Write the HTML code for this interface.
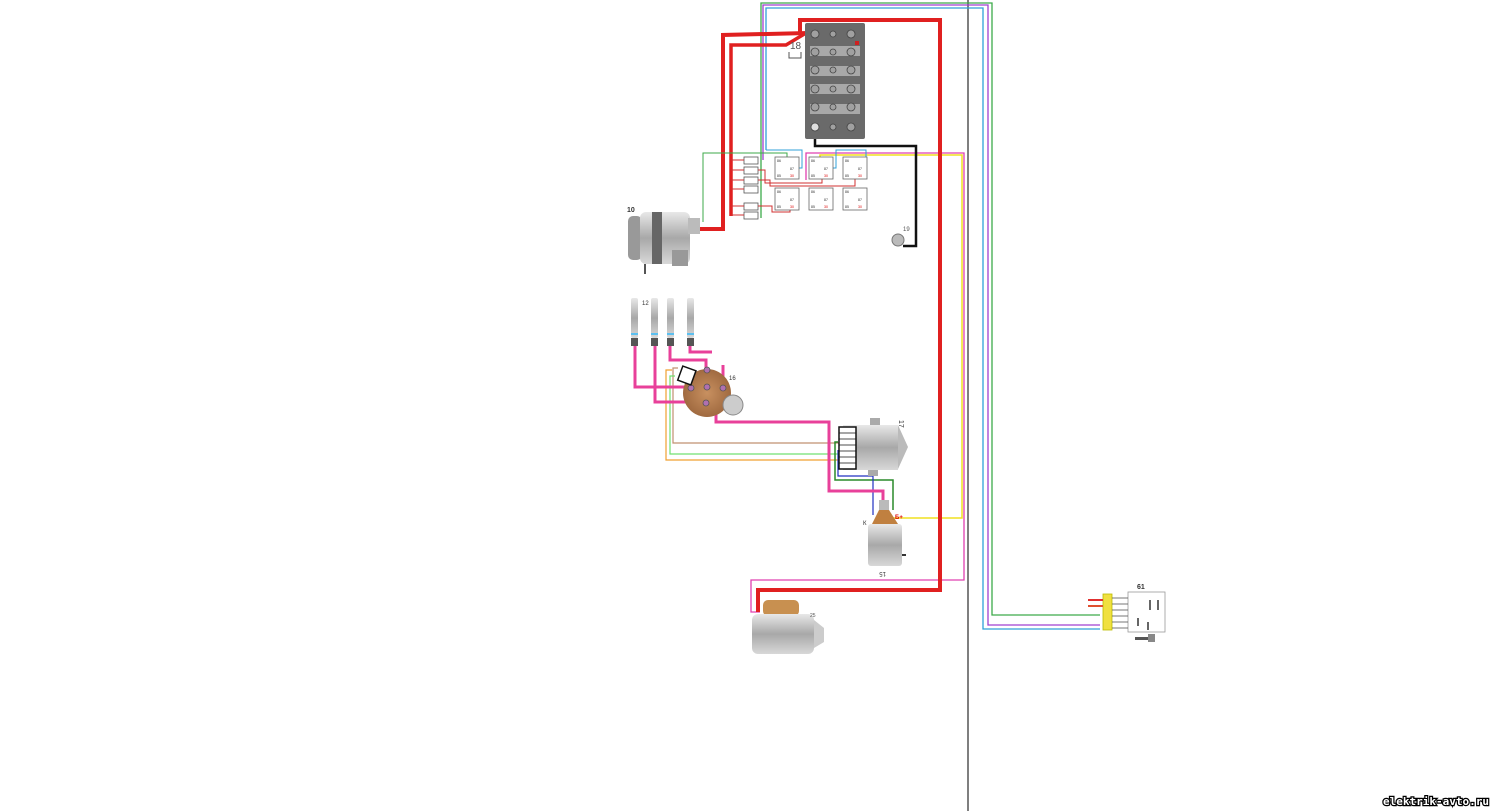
<!DOCTYPE html>
<html><head><meta charset="utf-8"><style>
html,body{margin:0;padding:0;background:#fff;width:1500px;height:811px;overflow:hidden}
svg{display:block}
text{font-family:"Liberation Sans",sans-serif}
</style></head><body>
<svg width="1500" height="811" viewBox="0 0 1500 811" xmlns="http://www.w3.org/2000/svg">
<defs>
<linearGradient id="metal" x1="0" y1="0" x2="0" y2="1">
<stop offset="0" stop-color="#e8e8e8"/><stop offset="0.5" stop-color="#a8a8a8"/><stop offset="1" stop-color="#d8d8d8"/></linearGradient>
<radialGradient id="brown"><stop offset="0" stop-color="#c89060"/><stop offset="1" stop-color="#a06a40"/></radialGradient>
</defs>
<line x1="968" y1="0" x2="968" y2="811" stroke="#555" stroke-width="1.5"/>

<polyline points="761,218 761,3 992,3 992,615 1100,615" fill="none" stroke="#3daa4a" stroke-width="1.3"/>
<polyline points="763,160 763,5 988,5 988,625 1100,625" fill="none" stroke="#a040d0" stroke-width="1.3"/>
<polyline points="766,150 766,8 983,8 983,629 1100,629" fill="none" stroke="#30a0d8" stroke-width="1.3"/>

<polyline points="806,180 806,153 964,153 964,580 751,580 751,612 760,612" fill="none" stroke="#e040b0" stroke-width="1.3"/>
<polyline points="820,160 820,155 962,155 962,518 893,518" fill="none" stroke="#f0e020" stroke-width="1.5"/>

<polyline points="815,132 815,146 916,146 916,246 903,246" fill="none" stroke="#111" stroke-width="2.5"/>

<polyline points="800,35 800,20 940,20 940,590 758,590 758,612" fill="none" stroke="#e02020" stroke-width="4"/>
<polyline points="698,229 723,229 723,35 808,33" fill="none" stroke="#e02020" stroke-width="4"/>
<polyline points="731,216 731,45 786,45 806,33" fill="none" stroke="#e02020" stroke-width="3.5"/>

<rect x="805" y="23" width="60" height="116" fill="#6a6a6a" rx="2"/>
<g fill="#a8a8a8">
<rect x="810" y="46" width="50" height="10"/><rect x="810" y="66" width="50" height="10"/><rect x="810" y="84" width="50" height="10"/><rect x="810" y="104" width="50" height="10"/>
</g>
<g fill="#a0a0a0" stroke="#444" stroke-width="0.8">
<circle cx="815" cy="34" r="4"/><circle cx="833" cy="34" r="3"/><circle cx="851" cy="34" r="4"/>
<circle cx="815" cy="52" r="4"/><circle cx="833" cy="52" r="3"/><circle cx="851" cy="52" r="4"/>
<circle cx="815" cy="70" r="4"/><circle cx="833" cy="70" r="3"/><circle cx="851" cy="70" r="4"/>
<circle cx="815" cy="89" r="4"/><circle cx="833" cy="89" r="3"/><circle cx="851" cy="89" r="4"/>
<circle cx="815" cy="107" r="4"/><circle cx="833" cy="107" r="3"/><circle cx="851" cy="107" r="4"/>
<circle cx="815" cy="127" r="4" fill="#ddd"/><circle cx="833" cy="127" r="3"/><circle cx="851" cy="127" r="4"/>
</g>
<rect x="855" y="41" width="4" height="4" fill="#d02020"/>
<text x="790" y="49" font-size="10" fill="#555">18</text>
<path d="M789 52 v6 h12 v-6" fill="none" stroke="#555" stroke-width="1"/>

<g fill="#fff" stroke="#555" stroke-width="0.8">
<rect x="744" y="157" width="14" height="7"/><rect x="744" y="167" width="14" height="7"/><rect x="744" y="177" width="14" height="7"/><rect x="744" y="186" width="14" height="7"/><rect x="744" y="203" width="14" height="7"/><rect x="744" y="212" width="14" height="7"/>
</g>
<g stroke="#d03030" stroke-width="1">
<line x1="731" y1="160" x2="744" y2="160"/><line x1="731" y1="170" x2="744" y2="170"/><line x1="731" y1="180" x2="744" y2="180"/><line x1="731" y1="189" x2="744" y2="189"/><line x1="731" y1="206" x2="744" y2="206"/><line x1="731" y1="215" x2="744" y2="215"/>
<polyline points="758,170 765,170 765,183 822,183 822,178" fill="none"/>
<polyline points="758,180 770,180 770,186 855,186 855,178" fill="none"/>
<polyline points="758,206 772,206 772,212 790,212 790,210" fill="none"/>
</g>
<polyline points="703,222 703,153 787,153 787,160" fill="none" stroke="#3daa4a" stroke-width="1"/>
<polyline points="799,168 802,168 802,150 766,150" fill="none" stroke="#30a0d8" stroke-width="1"/>
<polyline points="833,168 836,168 836,150 866,150 866,168" fill="none" stroke="#30a0d8" stroke-width="1"/>

<g fill="#fff" stroke="#666" stroke-width="0.8">
<rect x="775" y="157" width="24" height="22"/><rect x="809" y="157" width="24" height="22"/><rect x="843" y="157" width="24" height="22"/>
<rect x="775" y="188" width="24" height="22"/><rect x="809" y="188" width="24" height="22"/><rect x="843" y="188" width="24" height="22"/>
</g>
<g font-size="3.5" fill="#333">
<text x="777" y="162">86</text><text x="777" y="177">85</text><text x="790" y="170">87</text><text x="790" y="177" fill="#d00">30</text>
<text x="811" y="162">86</text><text x="811" y="177">85</text><text x="824" y="170">87</text><text x="824" y="177" fill="#d00">30</text>
<text x="845" y="162">86</text><text x="845" y="177">85</text><text x="858" y="170">87</text><text x="858" y="177" fill="#d00">30</text>
<text x="777" y="193">86</text><text x="777" y="208">85</text><text x="790" y="201">87</text><text x="790" y="208" fill="#d00">30</text>
<text x="811" y="193">86</text><text x="811" y="208">85</text><text x="824" y="201">87</text><text x="824" y="208" fill="#d00">30</text>
<text x="845" y="193">86</text><text x="845" y="208">85</text><text x="858" y="201">87</text><text x="858" y="208" fill="#d00">30</text>
</g>

<circle cx="898" cy="240" r="6" fill="#bbb" stroke="#777"/>
<text x="903" y="231" font-size="6" fill="#555">19</text>

<text x="627" y="212" font-size="7" fill="#333" font-weight="bold">10</text>
<rect x="628" y="216" width="14" height="44" rx="5" fill="#999"/>
<rect x="640" y="212" width="50" height="52" rx="6" fill="url(#metal)"/>
<rect x="652" y="212" width="10" height="52" fill="#666"/>
<rect x="672" y="250" width="16" height="16" fill="#999"/>
<rect x="688" y="218" width="12" height="16" fill="#bbb"/>
<line x1="645" y1="264" x2="645" y2="274" stroke="#555" stroke-width="2"/>

<g>
<rect x="631" y="298" width="7" height="40" rx="2" fill="url(#metal)"/><rect x="631" y="338" width="7" height="8" fill="#555"/><rect x="631" y="333" width="7" height="2" fill="#5bc0f0"/>
<rect x="651" y="298" width="7" height="40" rx="2" fill="url(#metal)"/><rect x="651" y="338" width="7" height="8" fill="#555"/><rect x="651" y="333" width="7" height="2" fill="#5bc0f0"/>
<rect x="667" y="298" width="7" height="40" rx="2" fill="url(#metal)"/><rect x="667" y="338" width="7" height="8" fill="#555"/><rect x="667" y="333" width="7" height="2" fill="#5bc0f0"/>
<rect x="687" y="298" width="7" height="40" rx="2" fill="url(#metal)"/><rect x="687" y="338" width="7" height="8" fill="#555"/><rect x="687" y="333" width="7" height="2" fill="#5bc0f0"/>
</g>
<text x="642" y="305" font-size="6" fill="#333">12</text>

<polyline points="678,368 673,368 673,443 840,443" fill="none" stroke="#c09070" stroke-width="1.2"/>
<polyline points="675,376 670,376 670,454 840,454" fill="none" stroke="#70e070" stroke-width="1.2"/>
<polyline points="672,370 666,370 666,460 840,460" fill="none" stroke="#f0a030" stroke-width="1.2"/>
<polyline points="838,442 835,442 835,480 893,480 893,510" fill="none" stroke="#2a8a2a" stroke-width="1.5"/>
<polyline points="838,450 838,476 873,476 873,515" fill="none" stroke="#2030c0" stroke-width="1.2"/>

<g fill="none" stroke="#e8409a" stroke-width="3">
<polyline points="635,346 635,387 692,387"/>
<polyline points="655,346 655,402 706,402"/>
<polyline points="670,346 670,360 706,360 706,370"/>
<polyline points="690,346 690,352 712,352"/>
<polyline points="723,365 723,386"/>
<polyline points="707,388 716,400 716,422 829,422 829,491 883,491 883,500"/>
</g>

<circle cx="707" cy="393" r="24" fill="url(#brown)"/>
<circle cx="733" cy="405" r="10" fill="#ccc" stroke="#888"/>
<g fill="#b070b0" stroke="#555" stroke-width="0.8">
<circle cx="707" cy="370" r="3"/><circle cx="691" cy="388" r="3"/><circle cx="707" cy="387" r="3"/><circle cx="723" cy="388" r="3"/><circle cx="706" cy="403" r="3"/>
</g>
<rect x="680" y="368" width="14" height="15" fill="#fff" stroke="#111" stroke-width="1.5" transform="rotate(20 687 375)"/>
<text x="729" y="380" font-size="6" fill="#333">16</text>

<rect x="843" y="425" width="55" height="45" fill="url(#metal)"/>
<path d="M898 425 l10 22 l-10 22z" fill="#bbb"/>
<rect x="839" y="427" width="17" height="42" fill="#fff" stroke="#111" stroke-width="1.5"/>
<g stroke="#111" stroke-width="0.8"><line x1="839" y1="433" x2="856" y2="433"/><line x1="839" y1="439" x2="856" y2="439"/><line x1="839" y1="445" x2="856" y2="445"/><line x1="839" y1="451" x2="856" y2="451"/><line x1="839" y1="457" x2="856" y2="457"/><line x1="839" y1="463" x2="856" y2="463"/></g>
<rect x="870" y="418" width="10" height="7" fill="#aaa"/>
<rect x="868" y="470" width="10" height="6" fill="#aaa"/>
<text x="899" y="420" font-size="7" fill="#333" transform="rotate(90 899 420)">17</text>

<rect x="879" y="500" width="10" height="10" fill="#bbb"/>
<path d="M879 510 L872 524 H898 L889 510Z" fill="#c08040"/>
<rect x="868" y="524" width="34" height="42" rx="3" fill="url(#metal)"/>
<line x1="902" y1="555" x2="906" y2="555" stroke="#333" stroke-width="2"/>
<text x="895" y="519" font-size="6" fill="#d00" font-weight="bold">Б+</text>
<text x="863" y="525" font-size="6" fill="#333">К</text>
<text x="878" y="572" font-size="6" fill="#333" transform="rotate(180 882 572)">15</text>

<rect x="763" y="600" width="36" height="16" rx="5" fill="#c89050"/>
<rect x="752" y="614" width="62" height="40" rx="6" fill="url(#metal)"/>
<path d="M814 620 l10 8 v14 l-10 6z" fill="#ccc"/>
<text x="810" y="617" font-size="5" fill="#555">25</text>

<rect x="1128" y="592" width="37" height="40" fill="#fff" stroke="#999" stroke-width="0.8"/>
<rect x="1103" y="594" width="9" height="36" fill="#f0e040" stroke="#bb0" stroke-width="0.8"/>
<g stroke="#555" stroke-width="0.8">
<line x1="1112" y1="598" x2="1128" y2="598"/><line x1="1112" y1="604" x2="1128" y2="604"/><line x1="1112" y1="610" x2="1128" y2="610"/><line x1="1112" y1="616" x2="1128" y2="616"/><line x1="1112" y1="622" x2="1128" y2="622"/><line x1="1112" y1="628" x2="1128" y2="628"/>
</g>
<line x1="1088" y1="600" x2="1103" y2="600" stroke="#e03030" stroke-width="2"/>
<line x1="1088" y1="606" x2="1103" y2="606" stroke="#e05030" stroke-width="2"/>
<line x1="1150" y1="600" x2="1150" y2="610" stroke="#333" stroke-width="1.5"/>
<line x1="1158" y1="600" x2="1158" y2="610" stroke="#333" stroke-width="1.5"/>
<line x1="1138" y1="618" x2="1138" y2="626" stroke="#333" stroke-width="1.5"/>
<line x1="1148" y1="622" x2="1148" y2="630" stroke="#333" stroke-width="1.5"/>
<rect x="1135" y="637" width="14" height="3" fill="#555"/><rect x="1148" y="634" width="7" height="8" fill="#888"/>
<text x="1137" y="589" font-size="7" fill="#333" font-weight="bold">61</text>

<text x="1383" y="805" font-size="11" font-weight="bold" fill="#fff" stroke="#000" stroke-width="2.5" paint-order="stroke" style="font-family:'DejaVu Sans Mono',monospace">elektrik-avto.ru</text>
</svg>
</body></html>
